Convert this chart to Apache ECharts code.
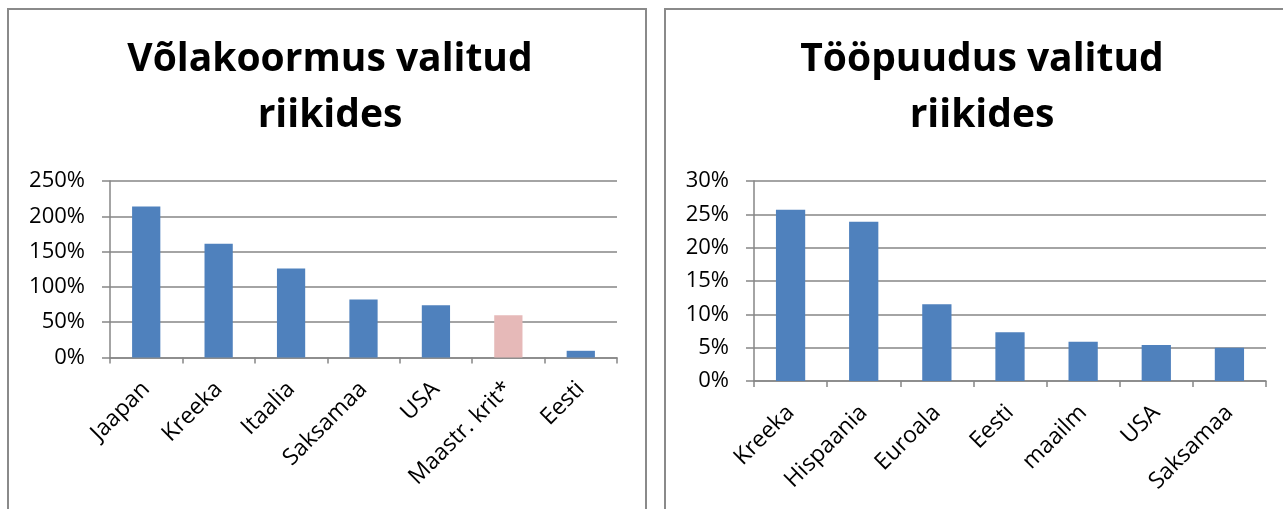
<!DOCTYPE html>
<html>
<head>
<meta charset="utf-8">
<script src="https://cdn.jsdelivr.net/npm/echarts@6/dist/echarts.min.js"></script>
<style>
html,body{margin:0;padding:0;background:#fff;}
#c{width:1283px;height:509px;}
</style>
</head>
<body>
<div id="c"></div>
<script>
// ---- data ----
const debtTitle = 'Võlakoormus valitud\nriikides';
const debtCategories = ['Jaapan', 'Kreeka', 'Itaalia', 'Saksamaa', 'USA', 'Maastr. krit*', 'Eesti'];
const debtValues = [214, 161, 126, 82, 74, 60, 9.5];
const debtHighlight = 'Maastr. krit*';
const debtTicks = [0, 50, 100, 150, 200, 250];

const unempTitle = 'Tööpuudus valitud\nriikides';
const unempCategories = ['Kreeka', 'Hispaania', 'Euroala', 'Eesti', 'maailm', 'USA', 'Saksamaa'];
const unempValues = [25.7, 23.9, 11.5, 7.3, 5.9, 5.4, 5.0];
const unempTicks = [0, 5, 10, 15, 20, 25, 30];

// ---- styles ----
const BLUE = '#4f81bd';
const PINK = '#e6b9b8';
const GRID = '#868686';
const LABEL_FONT = 'Open Sans';
const TITLE_FONT = 'Open Sans';

const chart = echarts.init(document.getElementById('c'), null, {renderer: 'canvas'});

function yAxis(gridIndex, ticks) {
  return {
    type: 'value', gridIndex: gridIndex,
    min: ticks[0], max: ticks[ticks.length - 1], interval: ticks[1] - ticks[0],
    axisLine: {show: true, lineStyle: {color: GRID, width: 1.5}},
    axisTick: {show: true, length: 8, lineStyle: {color: GRID, width: 1.5}},
    splitLine: {show: true, lineStyle: {color: GRID, width: 1.5}},
    axisLabel: {formatter: '{value}%', color: '#000', fontFamily: LABEL_FONT, fontSize: 22, margin: 25}
  };
}
function xAxis(gridIndex, cats) {
  return {
    type: 'category', gridIndex: gridIndex, data: cats,
    axisLine: {show: true, lineStyle: {color: GRID, width: 1.5}},
    axisTick: {show: true, length: 6, alignWithLabel: false, lineStyle: {color: GRID, width: 1.5}},
    axisLabel: {rotate: 45, interval: 0, color: '#000', fontFamily: LABEL_FONT, fontSize: 23, margin: 28}
  };
}

chart.setOption({
  animation: false,
  title: [
    {text: debtTitle, left: 325, top: 27, textAlign: 'center',
     textStyle: {fontFamily: TITLE_FONT, fontWeight: 'bold', fontSize: 39, lineHeight: 56, color: '#000'}},
    {text: unempTitle, left: 977, top: 27, textAlign: 'center',
     textStyle: {fontFamily: TITLE_FONT, fontWeight: 'bold', fontSize: 39, lineHeight: 56, color: '#000'}}
  ],
  graphic: [
    {type: 'rect', shape: {x: 8, y: 9, width: 638, height: 520}, style: {fill: 'none', stroke: '#8a8a8a', lineWidth: 2}},
    {type: 'rect', shape: {x: 665, y: 9, width: 640, height: 520}, style: {fill: 'none', stroke: '#8a8a8a', lineWidth: 2}}
  ],
  grid: [
    {left: 110, top: 181, width: 507, height: 176.5},
    {left: 754, top: 181, width: 512, height: 200}
  ],
  xAxis: [xAxis(0, debtCategories), xAxis(1, unempCategories)],
  yAxis: [yAxis(0, debtTicks), yAxis(1, unempTicks)],
  series: [
    {type: 'bar', xAxisIndex: 0, yAxisIndex: 0, barWidth: '39%',
     data: debtValues.map((v, i) => ({value: v, itemStyle: {color: debtCategories[i] === debtHighlight ? PINK : BLUE}}))},
    {type: 'bar', xAxisIndex: 1, yAxisIndex: 1, barWidth: '40%',
     itemStyle: {color: BLUE}, data: unempValues}
  ]
});
</script>
</body>
</html>
